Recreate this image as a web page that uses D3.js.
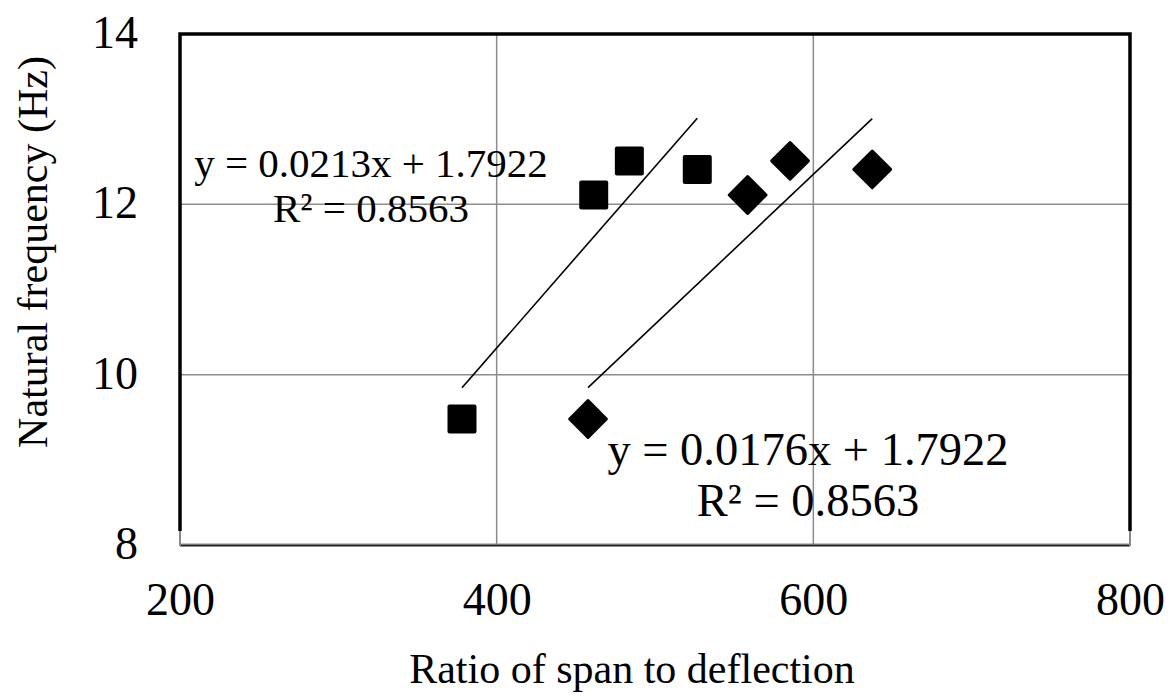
<!DOCTYPE html>
<html>
<head>
<meta charset="utf-8">
<script src="https://cdn.jsdelivr.net/npm/d3@7"></script>
<style>
  html, body { margin: 0; padding: 0; background: #fff; }
  svg { display: block; }
</style>
</head>
<body>
<svg id="chart" width="1169" height="698"></svg>
<script>
// Ratio of span to deflection (x) and natural frequency in Hz (y)
const squareX = [378.1, 461.3, 483.8, 526.7];
const squareY = [9.48, 12.11, 12.51, 12.41];
const diamondX = [457.7, 558.5, 585.3, 637.2];
const diamondY = [9.48, 12.11, 12.51, 12.41];

// Linear trendlines (slope, intercept) and their labels
const squareFit = { slope: 0.0213, intercept: 1.7922, eq: "y = 0.0213x + 1.7922", r2: "R² = 0.8563" };
const diamondFit = { slope: 0.0176, intercept: 1.7922, eq: "y = 0.0176x + 1.7922", r2: "R² = 0.8563" };

const xTicks = [200, 400, 600, 800];
const yTicks = [8, 10, 12, 14];

const xTitle = "Ratio of span to deflection";
const yTitle = "Natural frequency (Hz)";

const FONT = "'Liberation Serif', 'Times New Roman', serif";

const svg = d3.select("#chart");
const plotL = 180, plotR = 1130, plotT = 34, plotB = 545;

const x = d3.scaleLinear().domain([200, 800]).range([plotL, plotR]);
const y = d3.scaleLinear().domain([8, 14]).range([plotB, plotT]);

// gridlines
const grid = svg.append("g");
grid.selectAll("line.vx").data(xTicks).join("line")
  .attr("x1", d => x(d)).attr("x2", d => x(d))
  .attr("y1", plotT).attr("y2", plotB)
  .attr("stroke", "#8c8c8c").attr("stroke-width", 1.5);
grid.selectAll("line.hy").data(yTicks).join("line")
  .attr("x1", plotL).attr("x2", plotR)
  .attr("y1", d => y(d)).attr("y2", d => y(d))
  .attr("stroke", "#8c8c8c").attr("stroke-width", 1.5);

// plot frame
svg.append("path")
  .attr("d", `M${plotL},${plotB - 14} L${plotL},${plotT} L${plotR},${plotT} L${plotR},${plotB - 14}`)
  .attr("fill", "none").attr("stroke", "#000").attr("stroke-width", 3.5)
  .attr("stroke-linejoin", "miter");
svg.append("line")
  .attr("x1", plotL).attr("x2", plotR).attr("y1", plotB + 0.5).attr("y2", plotB + 0.5)
  .attr("stroke", "#222").attr("stroke-width", 2);
svg.append("line")
  .attr("x1", plotL).attr("x2", plotR).attr("y1", plotB - 1).attr("y2", plotB - 1)
  .attr("stroke", "#888").attr("stroke-width", 1);
svg.append("line")
  .attr("x1", plotL).attr("x2", plotL).attr("y1", plotB - 14).attr("y2", plotB + 1)
  .attr("stroke", "#888").attr("stroke-width", 2);
svg.append("line")
  .attr("x1", plotR).attr("x2", plotR).attr("y1", plotB - 14).attr("y2", plotB + 1)
  .attr("stroke", "#888").attr("stroke-width", 2);

// axes (labels only)
const xAxis = svg.append("g").attr("transform", `translate(0,${plotB})`)
  .call(d3.axisBottom(x).tickValues(xTicks).tickSize(0).tickFormat(d3.format("d")));
xAxis.select(".domain").remove();
xAxis.selectAll("text").attr("y", 70).attr("dy", 0)
  .attr("font-family", FONT).attr("font-size", 46).attr("fill", "#000");

const yAxis = svg.append("g").attr("transform", `translate(${plotL},0)`)
  .call(d3.axisLeft(y).tickValues(yTicks).tickSize(0).tickFormat(d3.format("d")));
yAxis.select(".domain").remove();
yAxis.selectAll("text").attr("x", -42).attr("dy", "0.29em")
  .attr("font-family", FONT).attr("font-size", 46).attr("fill", "#000");

// trendlines across each series' x range
function trend(fit, xs) {
  const x0 = d3.min(xs), x1 = d3.max(xs);
  svg.append("line")
    .attr("x1", x(x0)).attr("y1", y(fit.slope * x0 + fit.intercept))
    .attr("x2", x(x1)).attr("y2", y(fit.slope * x1 + fit.intercept))
    .attr("stroke", "#000").attr("stroke-width", 1.6);
}
trend(squareFit, squareX);
trend(diamondFit, diamondX);

// markers
const side = 29;
svg.append("g").selectAll("rect").data(squareX.map((d, i) => [d, squareY[i]])).join("rect")
  .attr("x", d => x(d[0]) - side / 2).attr("y", d => y(d[1]) - side / 2)
  .attr("width", side).attr("height", side).attr("rx", 2)
  .attr("fill", "#000");
svg.append("g").selectAll("rect").data(diamondX.map((d, i) => [d, diamondY[i]])).join("rect")
  .attr("x", -side / 2).attr("y", -side / 2)
  .attr("width", side).attr("height", side).attr("rx", 1.5)
  .attr("transform", d => `translate(${x(d[0])},${y(d[1])}) rotate(45)`)
  .attr("fill", "#000");

// trendline equations
function label(fit, cx, by, size, gap) {
  const g = svg.append("g").attr("font-family", FONT).attr("font-size", size)
    .attr("text-anchor", "middle").attr("fill", "#000");
  g.append("text").attr("x", cx).attr("y", by).text(fit.eq);
  g.append("text").attr("x", cx).attr("y", by + gap).text(fit.r2);
}
label(squareFit, 371, 177, 41, 45);
label(diamondFit, 808, 465, 46.5, 51);

// axis titles
svg.append("text").attr("x", 632).attr("y", 683)
  .attr("text-anchor", "middle").attr("font-family", FONT).attr("font-size", 42)
  .text(xTitle);
svg.append("text")
  .attr("transform", `translate(47,${252}) rotate(-90)`)
  .attr("text-anchor", "middle").attr("font-family", FONT).attr("font-size", 42)
  .text(yTitle);
</script>
</body>
</html>
